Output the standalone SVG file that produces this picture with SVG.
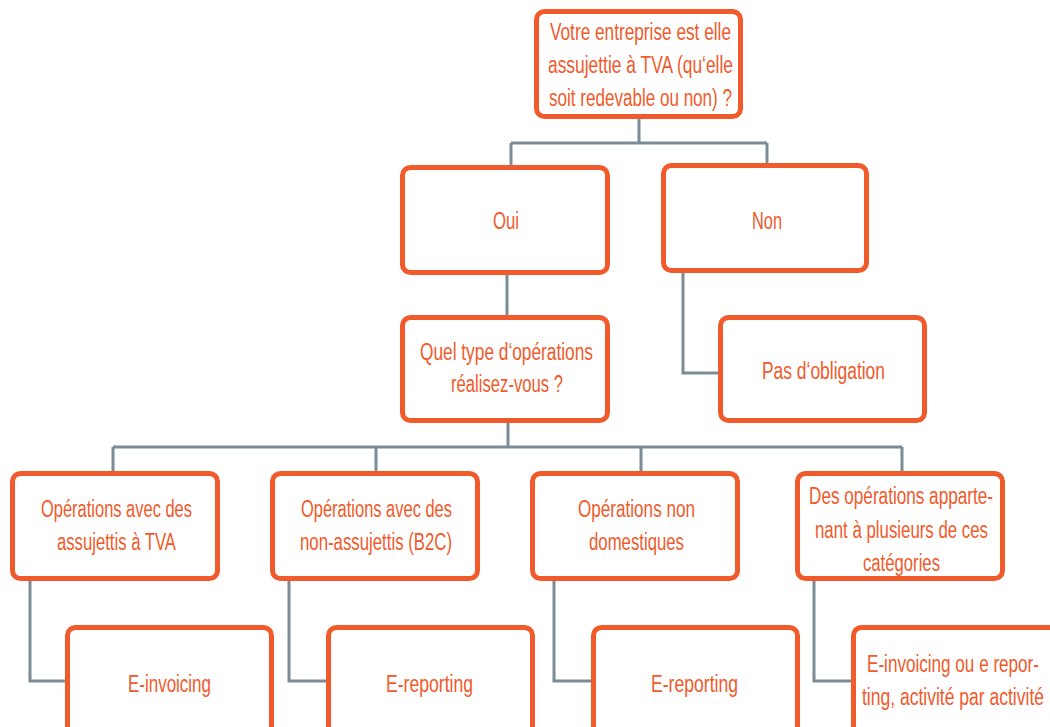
<svg xmlns="http://www.w3.org/2000/svg" width="1050" height="727" viewBox="0 0 1050 727">
<style>
.box{fill:#fff;stroke:#F15A2B;stroke-width:5}
.t{font-family:"Liberation Sans",Arial,sans-serif;font-size:23px;fill:#F15A2B;text-anchor:middle}
.c{fill:none;stroke:#7B8C96;stroke-width:3}
</style>
<rect width="1050" height="727" fill="#fff"/>
<g id="connectors">
<path class="c" d="M639 119V143M511 143H767M511 143V166M767 143V164"/>
<path class="c" d="M507 275V316"/>
<path class="c" d="M683 273V373H719"/>
<path class="c" d="M508 423V447M113 447H902M113 447V472M376 447V472M641 447V472M902 447V472"/>
<path class="c" d="M30 581V681H66"/>
<path class="c" d="M289 581V681H327"/>
<path class="c" d="M554 581V681H592"/>
<path class="c" d="M814 581V681H852"/>
</g>
<g id="n-question">
<rect class="box" x="536.5" y="11.5" width="204" height="105" rx="8"/>
<text class="t" x="640.5" y="40" textLength="181" lengthAdjust="spacingAndGlyphs">Votre entreprise est elle</text>
<text class="t" x="640.5" y="73" textLength="185" lengthAdjust="spacingAndGlyphs">assujettie à TVA (qu‘elle</text>
<text class="t" x="640.5" y="106" textLength="183" lengthAdjust="spacingAndGlyphs">soit redevable ou non) ?</text>
</g>
<g id="n-oui">
<rect class="box" x="402.5" y="167.5" width="205" height="105" rx="8"/>
<text class="t" x="506" y="229" textLength="26" lengthAdjust="spacingAndGlyphs">Oui</text>
</g>
<g id="n-non">
<rect class="box" x="663.5" y="165.5" width="203" height="105" rx="8"/>
<text class="t" x="767" y="229" textLength="30" lengthAdjust="spacingAndGlyphs">Non</text>
</g>
<g id="n-type">
<rect class="box" x="402.5" y="317.5" width="205" height="103" rx="8"/>
<text class="t" x="506.5" y="360" textLength="173" lengthAdjust="spacingAndGlyphs">Quel type d‘opérations</text>
<text class="t" x="507" y="392" textLength="112" lengthAdjust="spacingAndGlyphs">réalisez-vous ?</text>
</g>
<g id="n-pas">
<rect class="box" x="720.5" y="317.5" width="204" height="103" rx="8"/>
<text class="t" x="823.5" y="379" textLength="123" lengthAdjust="spacingAndGlyphs">Pas d‘obligation</text>
</g>
<g id="n-b2b">
<rect class="box" x="12.5" y="473.5" width="205" height="105" rx="8"/>
<text class="t" x="116.5" y="517" textLength="151" lengthAdjust="spacingAndGlyphs">Opérations avec des</text>
<text class="t" x="116.5" y="550" textLength="119" lengthAdjust="spacingAndGlyphs">assujettis à TVA</text>
</g>
<g id="n-b2c">
<rect class="box" x="272.5" y="473.5" width="205" height="105" rx="8"/>
<text class="t" x="376.5" y="517" textLength="151" lengthAdjust="spacingAndGlyphs">Opérations avec des</text>
<text class="t" x="376" y="550" textLength="152" lengthAdjust="spacingAndGlyphs">non-assujettis (B2C)</text>
</g>
<g id="n-nondom">
<rect class="box" x="532.5" y="473.5" width="205" height="105" rx="8"/>
<text class="t" x="636.5" y="517" textLength="117" lengthAdjust="spacingAndGlyphs">Opérations non</text>
<text class="t" x="636.5" y="550" textLength="95" lengthAdjust="spacingAndGlyphs">domestiques</text>
</g>
<g id="n-multi">
<rect class="box" x="797.5" y="473.5" width="205" height="105" rx="8"/>
<text class="t" x="901" y="504" textLength="184" lengthAdjust="spacingAndGlyphs">Des opérations apparte-</text>
<text class="t" x="901.5" y="538" textLength="173" lengthAdjust="spacingAndGlyphs">nant à plusieurs de ces</text>
<text class="t" x="901.5" y="571" textLength="77" lengthAdjust="spacingAndGlyphs">catégories</text>
</g>
<g id="n-einv">
<rect class="box" x="67.5" y="627.5" width="204" height="115" rx="8"/>
<text class="t" x="169.5" y="692" textLength="83" lengthAdjust="spacingAndGlyphs">E-invoicing</text>
</g>
<g id="n-erep1">
<rect class="box" x="328.5" y="627.5" width="204" height="115" rx="8"/>
<text class="t" x="429.5" y="692" textLength="87" lengthAdjust="spacingAndGlyphs">E-reporting</text>
</g>
<g id="n-erep2">
<rect class="box" x="593.5" y="627.5" width="204" height="115" rx="8"/>
<text class="t" x="694.5" y="692" textLength="87" lengthAdjust="spacingAndGlyphs">E-reporting</text>
</g>
<g id="n-mixed">
<rect class="box" x="853.5" y="627.5" width="204" height="115" rx="8"/>
<text class="t" x="953" y="672" textLength="172" lengthAdjust="spacingAndGlyphs">E-invoicing ou e repor-</text>
<text class="t" x="953" y="705" textLength="182" lengthAdjust="spacingAndGlyphs">ting, activité par activité</text>
</g>
</svg>
